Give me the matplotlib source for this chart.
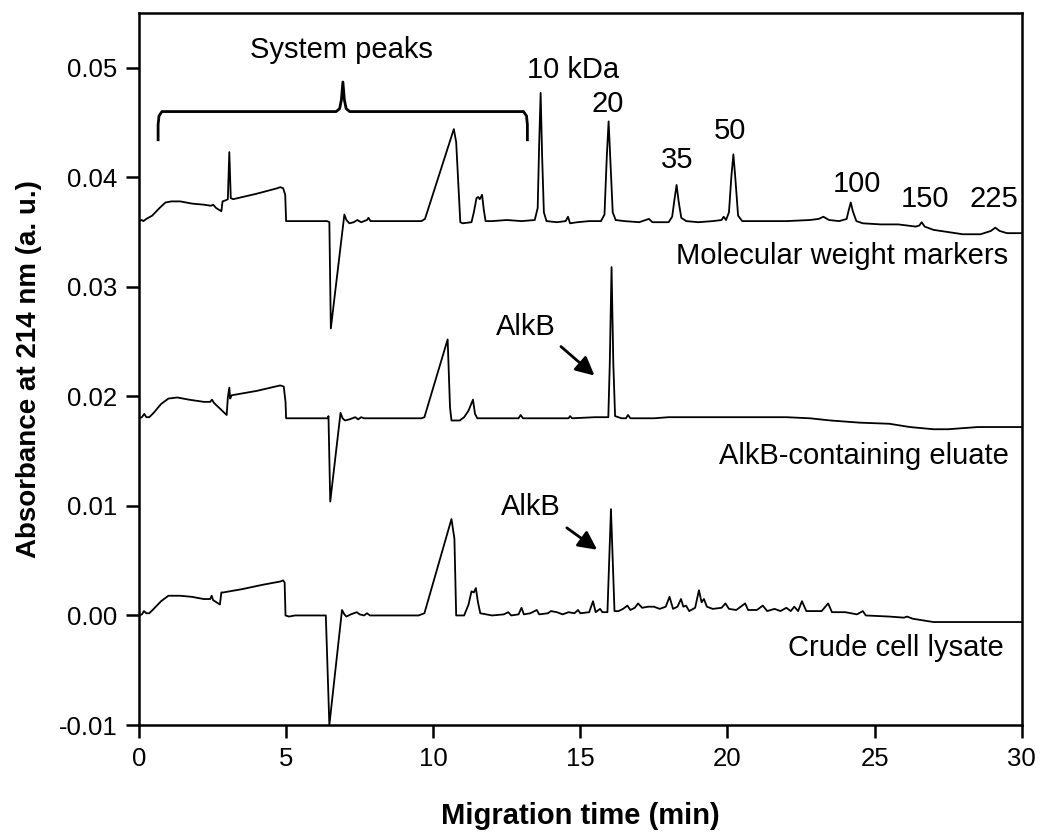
import numpy as np
import matplotlib.pyplot as plt

plt.rcParams['font.family'] = ['Liberation Sans', 'DejaVu Sans']

# ---------- electropherogram traces: (time in min, absorbance in a.u.) ----------
markers = [
    (0.00, 0.0360), (0.10, 0.0361), (0.15, 0.0360), (0.25, 0.0362), (0.45, 0.0365),
    (0.70, 0.0372), (0.90, 0.0377), (1.10, 0.0378), (1.40, 0.0378), (1.80, 0.0376),
    (2.20, 0.0375), (2.45, 0.0374), (2.52, 0.0375), (2.62, 0.0372), (2.80, 0.0369),
    (2.84, 0.0378), (2.95, 0.0379), (3.02, 0.0380), (3.07, 0.0423), (3.12, 0.0381),
    (3.20, 0.0380), (4.00, 0.0385), (4.70, 0.0390), (4.80, 0.0391), (4.90, 0.0390),
    (4.97, 0.0384), (5.00, 0.0360), (6.40, 0.0360), (6.47, 0.0359), (6.52, 0.0262),
    (6.98, 0.0366), (7.05, 0.0361), (7.15, 0.0358), (7.30, 0.0359), (7.42, 0.0361),
    (7.55, 0.0359), (7.75, 0.0361), (7.80, 0.0363), (7.87, 0.0360), (8.20, 0.0360),
    (9.60, 0.0360), (9.72, 0.0362), (10.70, 0.0444), (10.78, 0.0432), (10.85, 0.0395),
    (10.92, 0.0359), (11.00, 0.0358), (11.30, 0.0359), (11.38, 0.0368), (11.47, 0.0381),
    (11.53, 0.0382), (11.58, 0.0380), (11.66, 0.0384), (11.72, 0.0370), (11.78, 0.0360),
    (12.00, 0.0360), (12.50, 0.0361), (13.00, 0.0360), (13.45, 0.0361), (13.55, 0.0372),
    (13.60, 0.0430), (13.65, 0.0477), (13.70, 0.0420), (13.76, 0.0368), (13.85, 0.0360),
    (14.20, 0.0359), (14.50, 0.0360), (14.58, 0.0364), (14.65, 0.0358), (14.90, 0.0359),
    (15.30, 0.0360), (15.70, 0.0360), (15.82, 0.0366), (15.90, 0.0420), (15.96, 0.0451),
    (16.02, 0.0415), (16.10, 0.0368), (16.20, 0.0361), (16.50, 0.0360), (17.00, 0.0359),
    (17.33, 0.0362), (17.45, 0.0359), (18.00, 0.0359), (18.12, 0.0364), (18.20, 0.0380),
    (18.27, 0.0393), (18.34, 0.0378), (18.43, 0.0363), (18.60, 0.0360), (19.00, 0.0359),
    (19.50, 0.0360), (19.80, 0.0361), (19.87, 0.0364), (19.95, 0.0361), (20.05, 0.0368),
    (20.13, 0.0400), (20.20, 0.0421), (20.27, 0.0398), (20.36, 0.0365), (20.50, 0.0360),
    (21.00, 0.0360), (22.00, 0.0360), (22.80, 0.0361), (23.10, 0.0362), (23.26, 0.0364),
    (23.45, 0.0361), (23.80, 0.0360), (24.05, 0.0362), (24.12, 0.0370), (24.19, 0.0377),
    (24.26, 0.0369), (24.38, 0.0360), (24.60, 0.0358), (25.20, 0.0357), (25.80, 0.0357),
    (26.40, 0.0355), (26.52, 0.0356), (26.60, 0.0359), (26.70, 0.0355), (27.00, 0.0352),
    (27.50, 0.0350), (28.00, 0.0348), (28.60, 0.0348), (28.95, 0.0351), (29.10, 0.0354),
    (29.25, 0.0351), (29.50, 0.0349), (30.00, 0.0349),
]

eluate = [
    (0.00, 0.0180), (0.10, 0.0181), (0.18, 0.0184), (0.25, 0.0181), (0.35, 0.0181),
    (0.50, 0.0185), (0.75, 0.0193), (1.00, 0.0198), (1.30, 0.0199), (1.70, 0.0197),
    (2.20, 0.0195), (2.42, 0.0195), (2.48, 0.0197), (2.55, 0.0194), (2.98, 0.0183),
    (3.02, 0.0199), (3.07, 0.0208), (3.10, 0.0198), (3.15, 0.0201), (4.00, 0.0205),
    (4.80, 0.0210), (4.92, 0.0209), (4.98, 0.0195), (5.00, 0.0180), (5.50, 0.0180),
    (6.42, 0.0180), (6.44, 0.0182), (6.50, 0.0104), (6.85, 0.0185), (6.92, 0.0180),
    (7.00, 0.0178), (7.15, 0.0179), (7.35, 0.0181), (7.45, 0.0179), (7.55, 0.0181),
    (7.65, 0.0180), (8.00, 0.0180), (9.60, 0.0180), (9.70, 0.0181), (10.49, 0.0252),
    (10.57, 0.0190), (10.62, 0.0178), (10.90, 0.0178), (11.05, 0.0181), (11.20, 0.0187),
    (11.35, 0.0197), (11.42, 0.0184), (11.50, 0.0180), (12.00, 0.0180), (12.90, 0.0180),
    (12.97, 0.0183), (13.05, 0.0180), (14.00, 0.0180), (14.60, 0.0180), (14.65, 0.0182),
    (14.72, 0.0180), (15.50, 0.0181), (15.95, 0.0181), (16.00, 0.0230), (16.06, 0.0318),
    (16.12, 0.0230), (16.18, 0.0182), (16.40, 0.0180), (16.55, 0.0180), (16.62, 0.0183),
    (16.70, 0.0180), (17.00, 0.0180), (17.50, 0.0180), (18.00, 0.0181), (19.00, 0.0181),
    (20.00, 0.0181), (21.00, 0.0181), (22.00, 0.0181), (22.80, 0.0180), (23.50, 0.0178),
    (24.50, 0.0176), (25.50, 0.0175), (26.20, 0.0172), (27.00, 0.0170), (27.50, 0.0170),
    (28.50, 0.0172), (30.00, 0.0172),
]

lysate = [
    (0.00, 0.0000), (0.10, 0.0001), (0.17, 0.0004), (0.25, 0.0002), (0.35, 0.0002),
    (0.50, 0.0006), (0.75, 0.0013), (1.00, 0.0018), (1.40, 0.0018), (1.80, 0.0017),
    (2.20, 0.0015), (2.42, 0.0015), (2.47, 0.0018), (2.52, 0.0014), (2.75, 0.0010),
    (2.80, 0.0021), (2.86, 0.0021), (3.50, 0.0024), (4.20, 0.0028), (4.80, 0.0031),
    (4.90, 0.0032), (4.95, 0.0030), (4.98, 0.0000), (5.10, -0.0001), (5.30, 0.0000),
    (6.00, 0.0000), (6.35, 0.0000), (6.47, -0.0100), (6.90, 0.0005), (6.98, 0.0001),
    (7.05, -0.0001), (7.20, 0.0001), (7.40, 0.0003), (7.50, 0.0001), (7.65, 0.0000),
    (7.75, 0.0002), (7.85, 0.0000), (8.30, 0.0000), (9.50, 0.0000), (9.70, 0.0002),
    (10.62, 0.0088), (10.72, 0.0070), (10.78, 0.0000), (11.05, 0.0000), (11.20, 0.0010),
    (11.30, 0.0022), (11.38, 0.0021), (11.45, 0.0025), (11.52, 0.0012), (11.60, 0.0002),
    (12.00, 0.0000), (12.40, 0.0001), (12.55, 0.0003), (12.65, 0.0000), (12.90, 0.0001),
    (13.00, 0.0007), (13.08, 0.0001), (13.30, 0.0002), (13.52, 0.0005), (13.60, 0.0001),
    (13.90, 0.0002), (14.00, 0.0004), (14.20, 0.0003), (14.40, 0.0001), (14.60, 0.0003),
    (14.80, 0.0002), (14.92, 0.0005), (15.00, 0.0002), (15.30, 0.0003), (15.43, 0.0013),
    (15.52, 0.0003), (15.67, 0.0006), (15.75, 0.0003), (15.92, 0.0003), (15.98, 0.0050),
    (16.04, 0.0097), (16.10, 0.0050), (16.16, 0.0004), (16.30, 0.0004), (16.45, 0.0006),
    (16.60, 0.0009), (16.70, 0.0005), (16.85, 0.0007), (16.96, 0.0011), (17.10, 0.0007),
    (17.30, 0.0008), (17.50, 0.0008), (17.70, 0.0006), (17.90, 0.0008), (18.03, 0.0017),
    (18.15, 0.0006), (18.30, 0.0008), (18.42, 0.0015), (18.50, 0.0008), (18.59, 0.0009),
    (18.70, 0.0004), (18.90, 0.0007), (19.03, 0.0023), (19.12, 0.0012), (19.20, 0.0015),
    (19.30, 0.0008), (19.50, 0.0006), (19.80, 0.0007), (19.93, 0.0011), (20.05, 0.0006),
    (20.30, 0.0005), (20.60, 0.0011), (20.70, 0.0005), (21.00, 0.0005), (21.20, 0.0009),
    (21.35, 0.0004), (21.60, 0.0006), (21.80, 0.0004), (22.00, 0.0007), (22.15, 0.0004),
    (22.27, 0.0008), (22.40, 0.0004), (22.53, 0.0013), (22.68, 0.0004), (22.90, 0.0004),
    (23.20, 0.0004), (23.42, 0.0011), (23.55, 0.0003), (24.00, 0.0003), (24.40, 0.0001),
    (24.60, 0.0004), (24.70, 0.0000), (25.50, -0.0001), (26.00, -0.0002), (26.10, -0.0001),
    (26.30, -0.0003), (27.00, -0.0006), (27.50, -0.0006), (28.50, -0.0006), (30.00, -0.0006),
]

# ---------- peak labels ----------
mw_labels = ['20', '35', '50', '100', '150', '225']
mw_label_x = [15.94, 18.30, 20.10, 24.40, 26.70, 29.06]
mw_label_y = [0.0467, 0.0416, 0.0442, 0.0394, 0.0380, 0.0380]

trace_names = ['Molecular weight markers', 'AlkB-containing eluate', 'Crude cell lysate']
trace_name_x = [29.55, 29.55, 29.38]
trace_name_y = [0.0328, 0.0146, -0.0030]

# AlkB text position, arrow tail, arrow head
alkb_text = [(13.16, 0.0263), (13.30, 0.0099)]
alkb_tail = [(14.34, 0.02455), (14.54, 0.0080)]
alkb_head = [(15.48, 0.0219), (15.57, 0.0060)]

# curly bracket over the system peaks
brace_left, brace_right, brace_tip = 0.65, 13.2, 6.93
brace_foot, brace_level, brace_top = 0.0433, 0.0460, 0.0487

# ---------- figure ----------
fig = plt.figure(figsize=(10.41, 8.32), dpi=100)
ax = fig.add_axes([0.1335, 0.1286, 0.848, 0.8558])

for trace in (markers, eluate, lysate):
    t, a = np.array(trace).T
    ax.plot(t, a, color='black', lw=1.3, solid_joinstyle='round')

# bracket path
bx = [brace_left, brace_left, brace_left + 0.03, brace_left + 0.13,
      brace_tip - 0.23, brace_tip - 0.11, brace_tip - 0.05, brace_tip,
      brace_tip + 0.05, brace_tip + 0.11, brace_tip + 0.23,
      brace_right - 0.13, brace_right - 0.03, brace_right, brace_right]
dy = brace_top - brace_level
by = [brace_foot, brace_level - 0.0012, brace_level - 0.0004, brace_level,
      brace_level, brace_level + 0.1 * dy, brace_level + 0.4 * dy, brace_top,
      brace_level + 0.4 * dy, brace_level + 0.1 * dy, brace_level,
      brace_level, brace_level - 0.0004, brace_level - 0.0012, brace_foot]
ax.plot(bx, by, color='black', lw=2.0, solid_joinstyle='round', solid_capstyle='butt')
ax.text(brace_tip - 0.06, 0.0516, 'System peaks', fontsize=21, ha='center', va='center')

ax.text(13.18, 0.0498, '10 kDa', fontsize=21, ha='left', va='center')
for lab, x, y in zip(mw_labels, mw_label_x, mw_label_y):
    ax.text(x, y, lab, fontsize=21, ha='center', va='center')

for name, x, y in zip(trace_names, trace_name_x, trace_name_y):
    ax.text(x, y, name, fontsize=21, ha='right', va='center')

for (tx, ty), tail, head in zip(alkb_text, alkb_tail, alkb_head):
    ax.text(tx, ty, 'AlkB', fontsize=21, ha='center', va='center')
    ax.annotate('', xy=head, xytext=tail,
                arrowprops=dict(arrowstyle='-|>', color='black', lw=2.0,
                                mutation_scale=28, shrinkA=0, shrinkB=0))

ax.set_xlim(0, 30)
ax.set_ylim(-0.01, 0.055)
ax.set_xticks(np.arange(0, 31, 5))
ax.set_yticks(np.arange(-0.01, 0.051, 0.01))
ax.set_yticklabels(['-0.01', '0.00', '0.01', '0.02', '0.03', '0.04', '0.05'])

for sp in ax.spines.values():
    sp.set_linewidth(1.8)
ax.tick_params(direction='out', length=9.5, width=1.8, labelsize=18.5, pad=6)

ax.set_xlabel('Migration time (min)', fontsize=21, fontweight='bold', labelpad=23)
ax.set_ylabel('Absorbance at 214 nm (a. u.)', fontsize=20, fontweight='bold', labelpad=12)

fig.savefig('out.png', dpi=100)
